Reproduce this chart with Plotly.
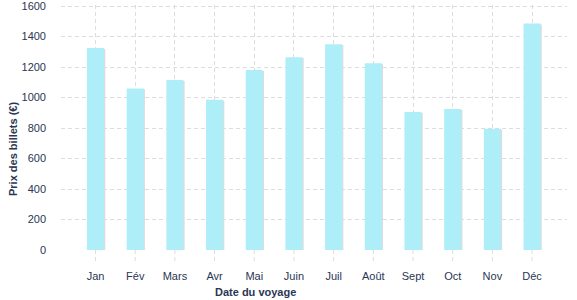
import plotly.graph_objects as go

months = ["Jan", "Fév", "Mars", "Avr", "Mai", "Juin", "Juil", "Août", "Sept", "Oct", "Nov", "Déc"]
prices = [1325, 1060, 1115, 985, 1180, 1265, 1350, 1225, 905, 925, 795, 1485]
y_ticks = [0, 200, 400, 600, 800, 1000, 1200, 1400, 1600]

BAR = "#aeeef8"
SHADOW = "#dcdcdc"
TXT = "#2a3654"
GRID = "#dddddd"
DASH = "4px,3px"
W = 0.43

fig = go.Figure()
fig.add_trace(go.Bar(x=months, y=[p - 6 for p in prices], width=W, offset=-W / 2 + 0.03,
                     marker=dict(color=SHADOW, line=dict(width=0)), hoverinfo="skip", showlegend=False))
fig.add_trace(go.Bar(x=months, y=prices, width=W, offset=-W / 2,
                     marker=dict(color=BAR, line=dict(width=0)), showlegend=False))

shapes = []
for m in months:
    shapes.append(dict(type="line", xref="x", yref="paper", x0=m, x1=m, y0=0, y1=-12 / 244,
                       line=dict(color=GRID, width=1, dash=DASH), layer="below"))

fig.update_layout(
    width=577, height=300,
    margin=dict(l=61, r=10, t=5, b=50),
    plot_bgcolor="white", paper_bgcolor="white",
    barmode="overlay",
    font=dict(family="Liberation Sans, Arial, sans-serif", size=11, color=TXT),
    shapes=shapes,
    xaxis=dict(type="category", range=[-0.87, 11.88], showgrid=True, gridcolor=GRID,
               griddash=DASH, gridwidth=1, zeroline=False, showline=False, ticks="",
               ticklabelstandoff=18, automargin=False, tickfont=dict(size=11, color=TXT)),
    yaxis=dict(range=[0, 1607], tickvals=y_ticks, showgrid=True, gridcolor=GRID,
               griddash=DASH, gridwidth=1, zeroline=False, showline=False, ticks="",
               ticklabelstandoff=14, ticklabeloverflow="allow", automargin=False,
               tickfont=dict(size=11, color=TXT)),
    annotations=[
        dict(text="<b>Date du voyage</b>", xref="paper", yref="paper",
             x=(255 - 61) / 506, y=-42 / 245, xanchor="center", yanchor="middle",
             showarrow=False, font=dict(size=11, color=TXT)),
        dict(text="<b>Prix des billets (€)</b>", xref="paper", yref="paper",
             x=(13 - 61) / 506, y=(250 - 149) / 245, xanchor="center", yanchor="middle",
             textangle=-90, showarrow=False, font=dict(size=11, color=TXT)),
    ],
)

fig.write_html("out.html")
